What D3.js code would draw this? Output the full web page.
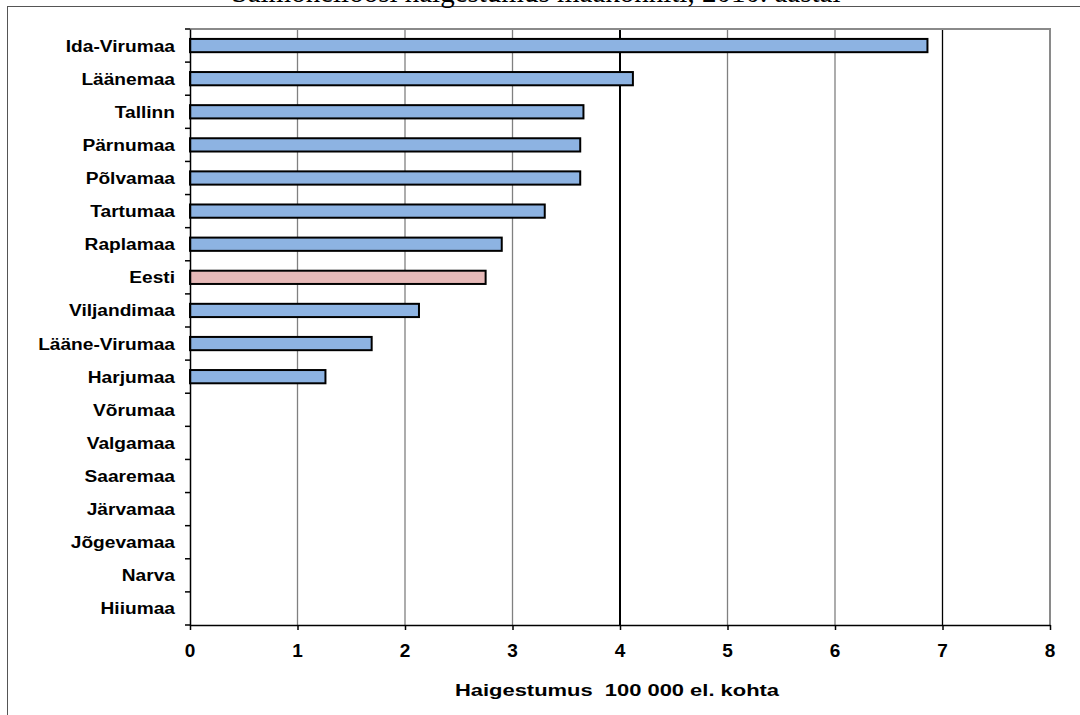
<!DOCTYPE html>
<html><head><meta charset="utf-8">
<script src="https://cdn.jsdelivr.net/npm/d3@7"></script>
<style>body{margin:0;background:#fff;}svg{display:block;}</style>
</head><body>
<svg id="c" width="1080" height="715"></svg>
<script>
const categories = ["Ida-Virumaa","Läänemaa","Tallinn","Pärnumaa","Põlvamaa","Tartumaa","Raplamaa","Eesti","Viljandimaa","Lääne-Virumaa","Harjumaa","Võrumaa","Valgamaa","Saaremaa","Järvamaa","Jõgevamaa","Narva","Hiiumaa"];
const values = [6.86,4.12,3.66,3.63,3.63,3.30,2.90,2.75,2.13,1.69,1.26,0,0,0,0,0,0,0];
const xTicks = [0,1,2,3,4,5,6,7,8];
const titleText = "Salmonelloosi haigestumus maakonniti, 2010. aastal";
const xTitle = "Haigestumus  100 000 el. kohta";
const highlight = "Eesti";

const FONT = "Liberation Sans, Arial, sans-serif";
const svg = d3.select("#c");
const L = 190, R = 1050, T = 29, B = 625;
const x = d3.scaleLinear().domain([0,8]).range([L,R]);
const y = d3.scaleBand().domain(categories).range([T,B]).paddingInner(0.6).paddingOuter(0.3);
const yb = d3.scaleBand().domain(categories).range([T,B]);

// outer frame
svg.append("rect").attr("x",7.5).attr("y",6.5).attr("width",1100).attr("height",800)
  .attr("fill","none").attr("stroke","#555").attr("stroke-width",1);
// title (cut off at top)
svg.append("text").attr("x",536).attr("y",2).attr("text-anchor","middle")
  .attr("font-family","Liberation Serif, Times New Roman, serif").attr("font-size",29)
  .attr("fill","#000").text(titleText);

// gridlines
svg.append("g").selectAll("line").data(xTicks.filter(d=>d>0 && d<8)).join("line")
  .attr("x1",d=>x(d)).attr("x2",d=>x(d)).attr("y1",T).attr("y2",B)
  .attr("stroke",d=>(d===4||d===7)?"#000":"#808080")
  .attr("stroke-width",d=>d===4?2:1.3);
// plot border top/right
svg.append("path").attr("d",`M${L},${T}H${R}V${B}`).attr("fill","none")
  .attr("stroke","#8a8a8a").attr("stroke-width",2);

// bars
svg.append("g").selectAll("rect").data(categories.map((c,i)=>({c,v:values[i]})).filter(d=>d.v>0)).join("rect")
  .attr("x",x(0)).attr("y",d=>y(d.c)).attr("width",d=>x(d.v)-x(0)).attr("height",y.bandwidth())
  .attr("fill",d=>d.c===highlight?"#E6B9B8":"#8DB3E2")
  .attr("stroke","#000").attr("stroke-width",2);

// x axis
const xa = svg.append("g").attr("transform",`translate(0,${B})`)
  .call(d3.axisBottom(x).tickValues(xTicks).tickFormat("").tickSize(5).tickSizeOuter(0));
xa.select(".domain").attr("stroke","#000").attr("stroke-width",1.5);
xa.selectAll(".tick line").attr("stroke","#000").attr("stroke-width",1.5);
svg.append("g").selectAll("text").data(xTicks).join("text")
  .attr("x",d=>x(d)).attr("y",657).attr("text-anchor","middle")
  .attr("font-family",FONT).attr("font-weight","bold").attr("font-size",19)
  .attr("fill","#000").text(d=>d3.format("d")(d));

// y axis
const ya = svg.append("g").attr("transform",`translate(${L},0)`)
  .call(d3.axisLeft(yb).tickSize(0).tickFormat(""));
ya.select(".domain").attr("stroke","#000").attr("stroke-width",1.5);
svg.append("g").selectAll("text").data(categories).join("text")
  .attr("transform",d=>`translate(175,${yb(d)+yb.bandwidth()/2+6}) scale(1.14,1)`)
  .attr("text-anchor","end")
  .attr("font-family",FONT).attr("font-weight","bold").attr("font-size",16.8)
  .attr("fill","#000").text(d=>d);
// category boundary ticks
svg.append("g").selectAll("line").data(d3.range(categories.length+1)).join("line")
  .attr("x1",L-5).attr("x2",L).attr("y1",i=>T+i*yb.step()).attr("y2",i=>T+i*yb.step())
  .attr("stroke","#000").attr("stroke-width",1.5);

// x title
svg.append("text").attr("transform","translate(617,696) scale(1.29,1)").attr("text-anchor","middle")
  .attr("font-family",FONT).attr("font-weight","bold")
  .attr("font-size",17).attr("fill","#000").style("white-space","pre").text(xTitle);
</script>
</body></html>
